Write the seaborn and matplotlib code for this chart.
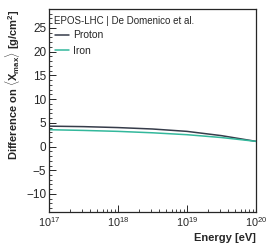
import numpy as np
import pandas as pd
import matplotlib
matplotlib.use("Agg")
import matplotlib.pyplot as plt
import seaborn as sns
from matplotlib.ticker import MultipleLocator, LogLocator, NullFormatter

# === Data ===
log_energy = [17.0, 17.5, 18.0, 18.5, 19.0, 19.5, 20.0]
proton = [4.3, 4.2, 4.0, 3.7, 3.2, 2.3, 1.1]
iron = [3.55, 3.4, 3.2, 2.9, 2.5, 1.9, 1.1]

energy = [10 ** e for e in log_energy]
df = pd.concat([
    pd.DataFrame({"energy": energy, "diff": proton, "primary": "Proton"}),
    pd.DataFrame({"energy": energy, "diff": iron, "primary": "Iron"}),
], ignore_index=True)

colors = {"Proton": "#363c4a", "Iron": "#33b89c"}

sns.set_style("ticks")
plt.rcParams["font.family"] = ["Liberation Sans", "DejaVu Sans"]
plt.rcParams["mathtext.fontset"] = "custom"
plt.rcParams["mathtext.rm"] = "Liberation Sans"
plt.rcParams["mathtext.bf"] = "Liberation Sans:bold"

fig = plt.figure(figsize=(2.66, 2.5), dpi=100)
ax = fig.add_axes([0.184, 0.152, 0.778, 0.812])

sns.lineplot(data=df, x="energy", y="diff", hue="primary", palette=colors,
             linewidth=1.1, ax=ax, legend=False)

ax.set_xscale("log")
ax.set_xlim(1e17, 1e20)
ax.set_ylim(-13.8, 29)

ax.yaxis.set_major_locator(MultipleLocator(5))
ax.yaxis.set_minor_locator(MultipleLocator(1))
ax.xaxis.set_major_locator(LogLocator(base=10, numticks=10))
ax.xaxis.set_minor_locator(LogLocator(base=10, subs=np.arange(2, 10), numticks=20))
ax.xaxis.set_minor_formatter(NullFormatter())

ax.tick_params(axis="both", which="both", direction="in", pad=2)
ax.tick_params(axis="y", labelsize=8.5)
ax.tick_params(axis="x", labelsize=7.8)
ax.tick_params(axis="both", which="major", length=5, width=0.7)
ax.tick_params(axis="both", which="minor", length=2.5, width=0.6)
for s in ax.spines.values():
    s.set_linewidth(0.9)

ax.set_xlabel("Energy [eV]", fontsize=8, fontweight="bold", loc="right", labelpad=3)
ax.set_ylabel(r"Difference on $\langle \mathbf{X}_{\mathbf{max}} \rangle$ [g/cm$^\mathbf{2}$]",
              fontsize=8, fontweight="bold", loc="top", labelpad=3)

ax.text(0.025, 0.965, "EPOS-LHC | De Domenico et al.", transform=ax.transAxes,
        fontsize=7, va="top", ha="left")

handles = [plt.Line2D([], [], color=colors[k], linewidth=1.1) for k in ["Proton", "Iron"]]
ax.legend(handles, ["Proton", "Iron"], loc="upper left", bbox_to_anchor=(0.0, 0.925),
          frameon=False, fontsize=7.5, handlelength=1.3, handletextpad=0.4,
          labelspacing=0.5, borderaxespad=0.2)

fig.savefig("out.png", dpi=100)
